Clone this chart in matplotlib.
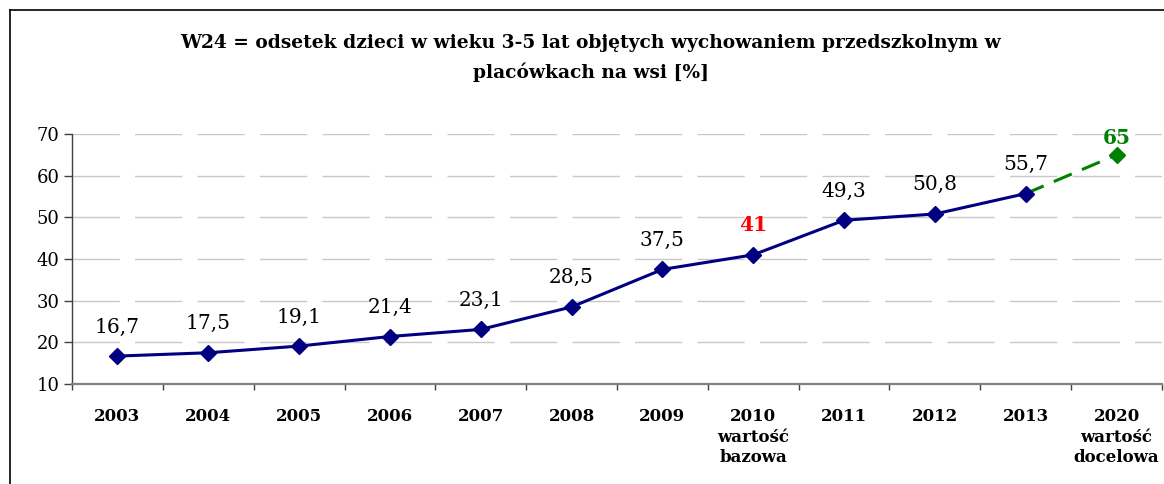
import matplotlib
matplotlib.use("Agg")
import matplotlib.pyplot as plt
from matplotlib.lines import Line2D

# data
years = ["2003", "2004", "2005", "2006", "2007", "2008", "2009",
         "2010\nwartość\nbazowa", "2011", "2012", "2013", "2020\nwartość\ndocelowa"]
values = [16.7, 17.5, 19.1, 21.4, 23.1, 28.5, 37.5, 41, 49.3, 50.8, 55.7]
target = 65
labels = ["16,7", "17,5", "19,1", "21,4", "23,1", "28,5", "37,5", "41", "49,3", "50,8", "55,7"]
title = "W24 = odsetek dzieci w wieku 3-5 lat objętych wychowaniem przedszkolnym w\nplacówkach na wsi [%]"

plt.rcParams['font.family'] = ['DejaVu Serif']
plt.rcParams['lines.scale_dashes'] = False

W, H = 1164, 484
fig = plt.figure(figsize=(W / 100, H / 100), dpi=100)
ax = fig.add_axes([72 / W, 1 - 384 / H, (1162 - 72) / W, (384 - 134) / H])

navy = "#000080"
green = "#008000"

x = list(range(len(values)))
ax.plot(x, values, color=navy, lw=2.2, marker="D", ms=8, zorder=3)
ax.plot([x[-1], len(values)], [values[-1], target], color=green, lw=2.2,
        dashes=(14, 8), zorder=2)
ax.plot([len(values)], [target], color=green, marker="D", ms=8, zorder=3)

for i, (v, t) in enumerate(zip(values, labels)):
    if t == "41":
        ax.annotate(t, (i, v), xytext=(0, 17), textcoords="offset points",
                    ha="center", va="baseline", fontsize=14.5, fontweight="bold", color="red")
    else:
        ax.annotate(t, (i, v), xytext=(0, 17), textcoords="offset points",
                    ha="center", va="baseline", fontsize=14.5, color="black")
ax.annotate(str(target), (len(values), target), xytext=(0, 8), textcoords="offset points",
            ha="center", va="baseline", fontsize=14.5, fontweight="bold", color=green)

ax.set_xlim(-0.5, len(years) - 0.5)
ax.set_ylim(10, 70)
ax.set_yticks(range(10, 71, 10))
ax.set_xticks(range(len(years)))
ax.set_xticklabels(years, fontsize=12, fontweight="bold", linespacing=1.3)
ax.set_xticks([i - 0.5 for i in range(len(years) + 1)], minor=True)
ax.tick_params(axis="x", which="major", length=0, pad=17)
ax.tick_params(axis="x", which="minor", length=4, width=1, color="#404040", direction="out")
ax.tick_params(axis="y", labelsize=13, length=6, width=1, color="#404040", pad=3)

ax.yaxis.grid(True, color="#c8c8c8", lw=1, dashes=(34, 11))
ax.set_axisbelow(True)
for s in ["top", "right"]:
    ax.spines[s].set_visible(False)
ax.spines["left"].set_color("#404040")
ax.spines["left"].set_linewidth(1)
ax.spines["bottom"].set_color("#808080")
ax.spines["bottom"].set_linewidth(1.6)

fig.text(591 / W, 1 - 58 / H, title, ha="center", va="center", fontsize=13.4,
         fontweight="bold", linespacing=1.65)

# outer frame (top and left)
fig.add_artist(Line2D([10 / W, 1], [1 - 10 / H, 1 - 10 / H], color="black", lw=1.2))
fig.add_artist(Line2D([10 / W, 10 / W], [0, 1 - 10 / H], color="black", lw=1.2))

fig.savefig("out.png", dpi=100)
